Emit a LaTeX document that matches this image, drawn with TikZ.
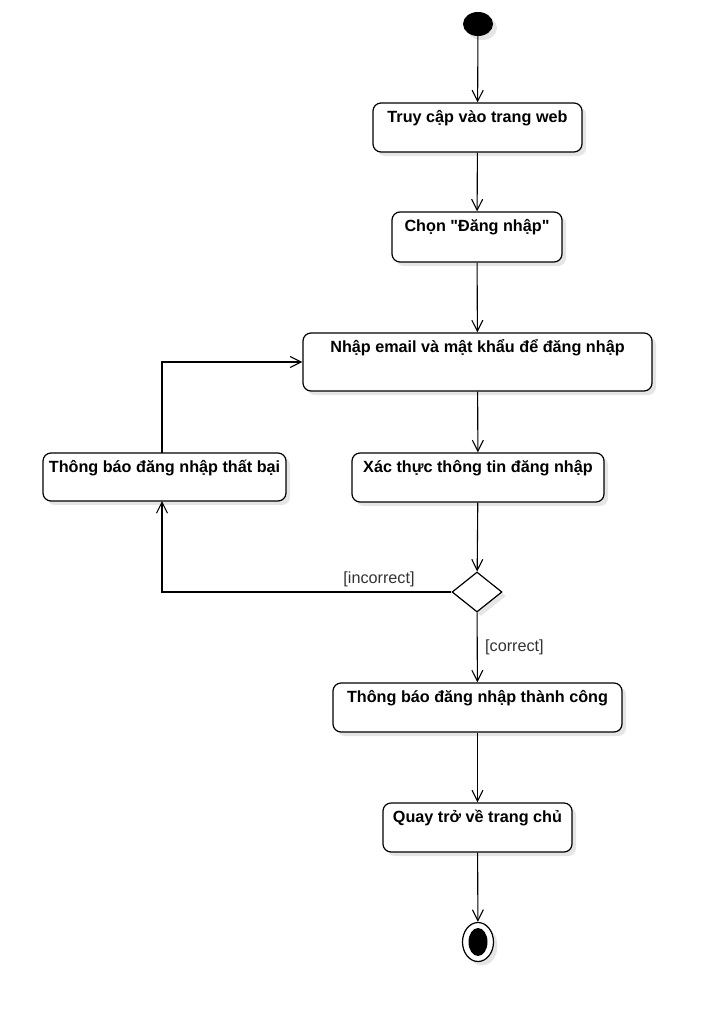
\documentclass[tikz,border=0pt]{standalone}
\usepackage{fontspec}
\setmainfont{Liberation Sans}
\usetikzlibrary{arrows.meta,shapes.geometric,shadows}
\newcommand{\stq}{\XeTeXglyph\XeTeXcharglyph"22\relax}
\begin{document}
\begin{tikzpicture}[x=1pt,y=-1pt,
  shad/.style={drop shadow={shadow xshift=4pt,shadow yshift=-4pt,opacity=0.1,fill=black}},
  actbox/.style={draw,line width=1.2pt,rounded corners=8pt,fill=white,inner sep=0pt,shad},
  ttl/.style={anchor=base,yshift=-20pt,font=\bfseries\fontsize{16.2}{19}\selectfont,inner sep=0pt},
  guard/.style={font=\fontsize{16.2}{19}\selectfont,text=black!80,inner sep=0pt},
  flow/.style={line width=1.1pt,-{Straight Barb[length=11pt,width=11pt,line width=1.1pt]}},
  ln/.style={line width=1.1pt}]
\useasboundingbox (0,0) rectangle (702,1012);
\node[ellipse,fill=black,minimum width=30pt,minimum height=24pt,inner sep=0pt,shad] (start) at (478,24) {};
\node[actbox,minimum width=209pt,minimum height=49pt,label={[ttl]north:Truy cập vào trang web}] (b1) at (477.5,127.5) {};
\node[actbox,minimum width=170pt,minimum height=50pt,label={[ttl]north:Chọn \stq Đăng nhập\stq}] (b2) at (477,237) {};
\node[actbox,minimum width=349pt,minimum height=58pt,label={[ttl]north:Nhập email và mật khẩu để đăng nhập}] (b3) at (477.5,362) {};
\node[actbox,minimum width=252pt,minimum height=49pt,label={[ttl]north:Xác thực thông tin đăng nhập}] (b4) at (478,477.5) {};
\node[actbox,minimum width=243pt,minimum height=48pt,label={[ttl]north:Thông báo đăng nhập thất bại}] (b5) at (164.5,477) {};
\node[diamond,draw,line width=1.2pt,fill=white,minimum width=50pt,minimum height=40pt,inner sep=0pt,shad] (dec) at (477,592) {};
\node[actbox,minimum width=289pt,minimum height=49pt,label={[ttl]north:Thông báo đăng nhập thành công}] (b6) at (477.5,707.5) {};
\node[actbox,minimum width=189pt,minimum height=49pt,label={[ttl]north:Quay trở về trang chủ}] (b7) at (477.5,827.5) {};
\node[ellipse,draw,line width=1.2pt,fill=white,minimum width=31pt,minimum height=39pt,inner sep=0pt,shad] (endo) at (478,942) {};
\node[ellipse,fill=black,minimum width=19pt,minimum height=28pt,inner sep=0pt] (endi) at (478,942) {};
\coordinate (c5s) at (162,501);
\coordinate (c5n) at (162,453);
\draw[flow] (start) -- (b1);
\draw[flow] (b1) -- (b2);
\draw[flow] (b2) -- (b3);
\draw[flow] (b3) -- (b4);
\draw[flow] (b4) -- (dec);
\draw[flow] (dec) -- (b6);
\draw[flow] (b6) -- (b7);
\draw[flow] (b7) -- (endo);
\draw[flow] (dec.west) -| (c5s);
\draw[flow] (c5n) |- (b3.west);
\node[guard,anchor=base] (gi) at (379,583) {[incorrect]};
\node[guard,anchor=base west] (gc) at (485,651) {[correct]};
\end{tikzpicture}
\end{document}
